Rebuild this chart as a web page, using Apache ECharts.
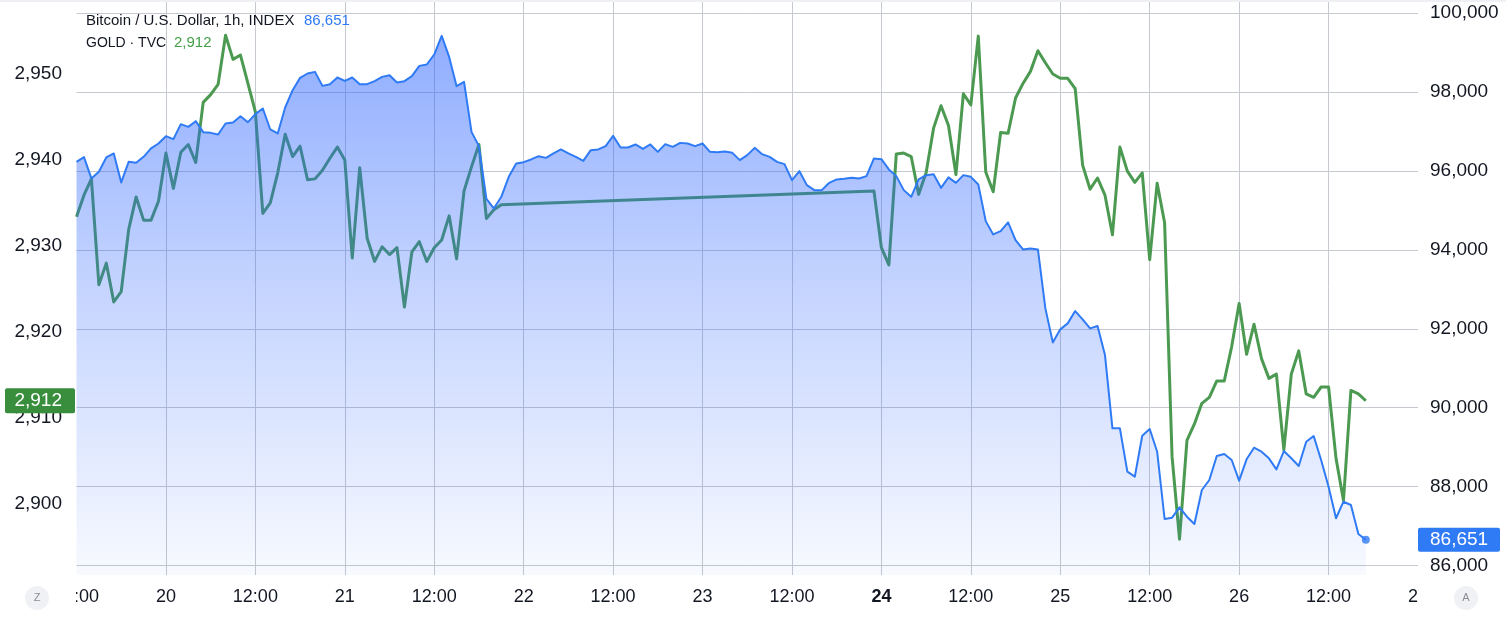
<!DOCTYPE html>
<html>
<head>
<meta charset="utf-8">
<script src="https://cdn.jsdelivr.net/npm/echarts@6/dist/echarts.min.js"></script>
<style>
html,body{margin:0;padding:0;background:#ffffff;}
#chart{width:1506px;height:618px;}
</style>
</head>
<body>
<div id="chart"></div>
<script>
// ---- data (hour index = hours after 19 Feb 2025 00:00) ----
const btcStartHour = 12; // 19 Feb 12:00, one bar per hour
const btc = [
  96232, 96351, 95811, 95979, 96343, 96445, 95710, 96232, 96207, 96359,
  96572, 96698, 96883, 96807, 97187, 97119, 97263, 96985, 96967, 96926,
  97205, 97230, 97390, 97238, 97441, 97585, 97053, 96952, 97610, 98049,
  98361, 98472, 98513, 98158, 98201, 98371, 98284, 98371, 98201, 98201,
  98277, 98386, 98429, 98244, 98277, 98404, 98665, 98700, 98953, 99425,
  98893, 98150, 98259, 96992, 96630, 95292, 95051, 95345, 95852, 96191,
  96224, 96293, 96376, 96333, 96445, 96546, 96445, 96359, 96257, 96528,
  96546, 96630, 96891, 96597, 96597, 96673, 96561, 96673, 96485, 96680,
  96612, 96713, 96698, 96630, 96698, 96485, 96478, 96495, 96460, 96275,
  96402, 96587, 96427, 96359, 96232, 96174, 95768, 95996, 95642, 95515,
  95515, 95700, 95786, 95801, 95826, 95811, 95870, 96318, 96300, 96039,
  95870, 95515, 95345, 95786, 95895, 95920, 95573, 95837, 95700, 95895,
  95852, 95659, 94729, 94392, 94476, 94696, 94248, 94012, 94037, 94012,
  92517, 91655, 91985, 92137, 92449, 92238, 92010, 92069, 91334, 89476,
  89476, 88377, 88250, 89289, 89459, 88883, 87178, 87211, 87474, 87236,
  87051, 87913, 88166, 88774, 88825, 88673, 88149, 88691, 88985, 88883,
  88716, 88437, 88901, 88716, 88521, 89137, 89281, 88673, 87996, 87196,
  87616, 87533, 86798, 86651
];

// Gold: week session until Fri 21 21:00, then from Sun 23 23:00
const goldAStartHour = 12;
const goldA = [
  2933.4, 2935.9, 2937.8, 2925.5, 2928.0, 2923.5, 2924.7, 2931.9, 2935.7, 2933.0,
  2933.0, 2935.2, 2940.8, 2936.7, 2940.9, 2941.8, 2939.7, 2946.7, 2947.6, 2948.8,
  2954.5, 2951.7, 2952.2, 2948.9, 2945.6, 2933.8, 2935.0, 2938.5, 2943.0, 2940.4,
  2941.6, 2937.7, 2937.8, 2938.8, 2940.2, 2941.5, 2940.0, 2928.6, 2939.1, 2930.9,
  2928.2, 2929.9, 2929.0, 2929.8, 2922.9, 2929.3, 2930.5, 2928.2, 2929.8, 2930.7,
  2933.5, 2928.5, 2936.4, 2939.2, 2941.8, 2933.2, 2934.2, 2934.8
];
const goldBStartHour = 119;
const goldB = [
  2936.4, 2929.8, 2927.8, 2940.7, 2940.8, 2940.4, 2936.0, 2938.5, 2943.7, 2946.3,
  2944.0, 2938.3, 2947.7, 2946.4, 2954.4, 2938.6, 2936.3, 2943.2, 2943.1, 2947.2,
  2948.9, 2950.3, 2952.7, 2951.3, 2950.0, 2949.5, 2949.5, 2948.3, 2939.4, 2936.6,
  2937.9, 2935.9, 2931.3, 2941.5, 2938.7, 2937.4, 2938.5, 2928.4, 2937.3, 2932.7,
  2905.5, 2895.9, 2907.4, 2909.3, 2911.7, 2912.4, 2914.3, 2914.3, 2918.3, 2923.3,
  2917.4, 2920.9, 2916.9, 2914.6, 2915.1, 2906.3, 2915.1, 2917.8, 2912.8, 2912.4,
  2913.6, 2913.6, 2905.3, 2900.4, 2913.2, 2912.8, 2912.0
];

const xTickHours  = [12, 24, 36, 48, 60, 72, 84, 96, 108, 120, 132, 144, 156, 168, 180, 192];
const xTickLabels = ['12:00','20','12:00','21','12:00','22','12:00','23','12:00','24','12:00','25','12:00','26','12:00','27'];
const boldTickLabels = ['24'];
const btcTicks  = [86000, 88000, 90000, 92000, 94000, 96000, 98000, 100000];
const goldTicks = [2900, 2910, 2920, 2930, 2940, 2950];
const btcTitle  = 'Bitcoin / U.S. Dollar, 1h, INDEX';
const goldTitle = 'GOLD · TVC';

// ---- styling ----
const FONT = '"Liberation Sans", Arial, sans-serif';
const BLUE = '#2f7bf5';
const GREEN_LINE = '#4c9a52';
const GREEN_TXT = '#43a047';
const GREEN_BADGE = '#388e3c';
const TEXT = '#131722';
const GRID = '#c6c9cf';

const fmt = v => Math.round(v).toLocaleString('en-US');

const btcData = btc.map((v, i) => [btcStartHour + i, v]);
const goldData = goldA.map((v, i) => [goldAStartHour + i, v])
  .concat(goldB.map((v, i) => [goldBStartHour + i, v]));
const btcLast = btc[btc.length - 1];
const goldLast = goldB[goldB.length - 1];

const chart = echarts.init(document.getElementById('chart'), null, {renderer: 'canvas'});

chart.setOption({
  animation: false,
  backgroundColor: '#ffffff',
  grid: {left: 76.5, right: 88, top: 0, bottom: 43, containLabel: false},
  xAxis: {
    type: 'value',
    min: xTickHours[0],
    max: xTickHours[xTickHours.length - 1],
    interval: 12,
    axisLine: {show: false},
    axisTick: {show: false},
    splitLine: {show: true, showMinLine: false, showMaxLine: false, lineStyle: {color: GRID, width: 1}},
    axisLabel: {
      show: true,
      showMinLabel: true,
      showMaxLabel: true,
      hideOverlap: false,
      margin: 13,
      color: TEXT,
      fontSize: 18,
      fontFamily: FONT,
      formatter: function (v) {
        const idx = xTickHours.indexOf(v);
        if (idx < 0) return '';
        const t = xTickLabels[idx];
        return boldTickLabels.indexOf(t) >= 0 ? '{b|' + t + '}' : t;
      },
      rich: {b: {fontWeight: 'bold', fontSize: 18, fontFamily: FONT, color: TEXT}}
    }
  },
  yAxis: [
    {
      type: 'value',
      position: 'left',
      min: 2891.74,
      max: 2958.6,
      axisLine: {show: false},
      axisTick: {show: false, customValues: goldTicks},
      splitLine: {show: false},
      axisLabel: {
        customValues: goldTicks,
        margin: 14.5,
        color: TEXT,
        fontSize: 19,
        fontFamily: FONT,
        formatter: v => fmt(v)
      }
    },
    {
      type: 'value',
      position: 'right',
      min: 85758,
      max: 100335,
      axisLine: {show: false},
      axisTick: {show: false, customValues: btcTicks},
      splitLine: {show: true, lineStyle: {color: GRID, width: 1}},
      axisLabel: {
        customValues: btcTicks,
        margin: 12,
        color: TEXT,
        fontSize: 19,
        fontFamily: FONT,
        formatter: v => fmt(v)
      }
    }
  ],
  series: [
    {
      name: 'GOLD',
      type: 'line',
      yAxisIndex: 0,
      data: goldData,
      showSymbol: false,
      connectNulls: true,
      z: 2,
      lineStyle: {color: GREEN_LINE, width: 3, join: 'round'},
      emphasis: {disabled: true}
    },
    {
      name: 'BTC',
      type: 'line',
      yAxisIndex: 1,
      data: btcData,
      showSymbol: false,
      z: 3,
      lineStyle: {color: BLUE, width: 2, join: 'round'},
      areaStyle: {
        origin: 'start',
        color: new echarts.graphic.LinearGradient(0, 0, 0, 1, [
          {offset: 0, color: 'rgba(41,98,255,0.74)'},
          {offset: 0.45, color: 'rgba(41,98,255,0.40)'},
          {offset: 1, color: 'rgba(41,98,255,0.05)'}
        ])
      },
      emphasis: {disabled: true}
    },
    {
      name: 'BTC last',
      type: 'scatter',
      yAxisIndex: 1,
      data: [[btcStartHour + btc.length - 1, btcLast]],
      symbolSize: 8,
      z: 4,
      itemStyle: {color: BLUE},
      emphasis: {disabled: true}
    }
  ]
});

// badges and header placed via the library's own scales
const yBtc = chart.convertToPixel({yAxisIndex: 1}, btcLast);
const yGold = chart.convertToPixel({yAxisIndex: 0}, goldLast);

chart.setOption({
  graphic: [
    {type: 'rect', shape: {x: 0, y: 0, width: 1506, height: 2}, style: {fill: '#eef0f4'}, z: 100, silent: true},
    // clip partial x labels at both ends
    {type: 'rect', shape: {x: 0, y: 580, width: 76, height: 36}, style: {fill: '#ffffff'}, z: 100, silent: true},
    {type: 'rect', shape: {x: 1419, y: 580, width: 87, height: 36}, style: {fill: '#ffffff'}, z: 100, silent: true},
    {type: 'circle', shape: {cx: 37, cy: 598, r: 12}, style: {fill: '#f0f1f4'}, z: 101, silent: true},
    {type: 'text', x: 37, y: 598, style: {text: 'Z', fill: '#8a8d96', font: '11px ' + FONT, align: 'center', verticalAlign: 'middle'}, z: 102, silent: true},
    {type: 'circle', shape: {cx: 1466, cy: 598, r: 12}, style: {fill: '#f0f1f4'}, z: 101, silent: true},
    {type: 'text', x: 1466, y: 598, style: {text: 'A', fill: '#8a8d96', font: '11px ' + FONT, align: 'center', verticalAlign: 'middle'}, z: 102, silent: true},
    // legend header
    {type: 'text', x: 86, y: 21, style: {text: btcTitle, fill: TEXT, font: '15px ' + FONT, verticalAlign: 'middle'}, z: 110, silent: true},
    {type: 'text', x: 304, y: 21, style: {text: fmt(btcLast), fill: BLUE, font: '15px ' + FONT, verticalAlign: 'middle'}, z: 110, silent: true},
    {type: 'text', x: 86, y: 43, style: {text: goldTitle, fill: TEXT, font: '14px ' + FONT, verticalAlign: 'middle'}, z: 110, silent: true},
    {type: 'text', x: 174, y: 43, style: {text: fmt(goldLast), fill: GREEN_TXT, font: '15px ' + FONT, verticalAlign: 'middle'}, z: 110, silent: true},
    // last value badges
    {type: 'rect', shape: {x: 1418, y: yBtc - 12, width: 82, height: 24, r: 2}, style: {fill: BLUE}, z: 110, silent: true},
    {type: 'text', x: 1430, y: yBtc, style: {text: fmt(btcLast), fill: '#ffffff', font: '19px ' + FONT, verticalAlign: 'middle'}, z: 111, silent: true},
    {type: 'rect', shape: {x: 5, y: yGold - 12.5, width: 70, height: 25, r: 2}, style: {fill: GREEN_BADGE}, z: 110, silent: true},
    {type: 'text', x: 62, y: yGold, style: {text: fmt(goldLast), fill: '#ffffff', font: '19px ' + FONT, align: 'right', verticalAlign: 'middle'}, z: 111, silent: true}
  ]
});
</script>
</body>
</html>
